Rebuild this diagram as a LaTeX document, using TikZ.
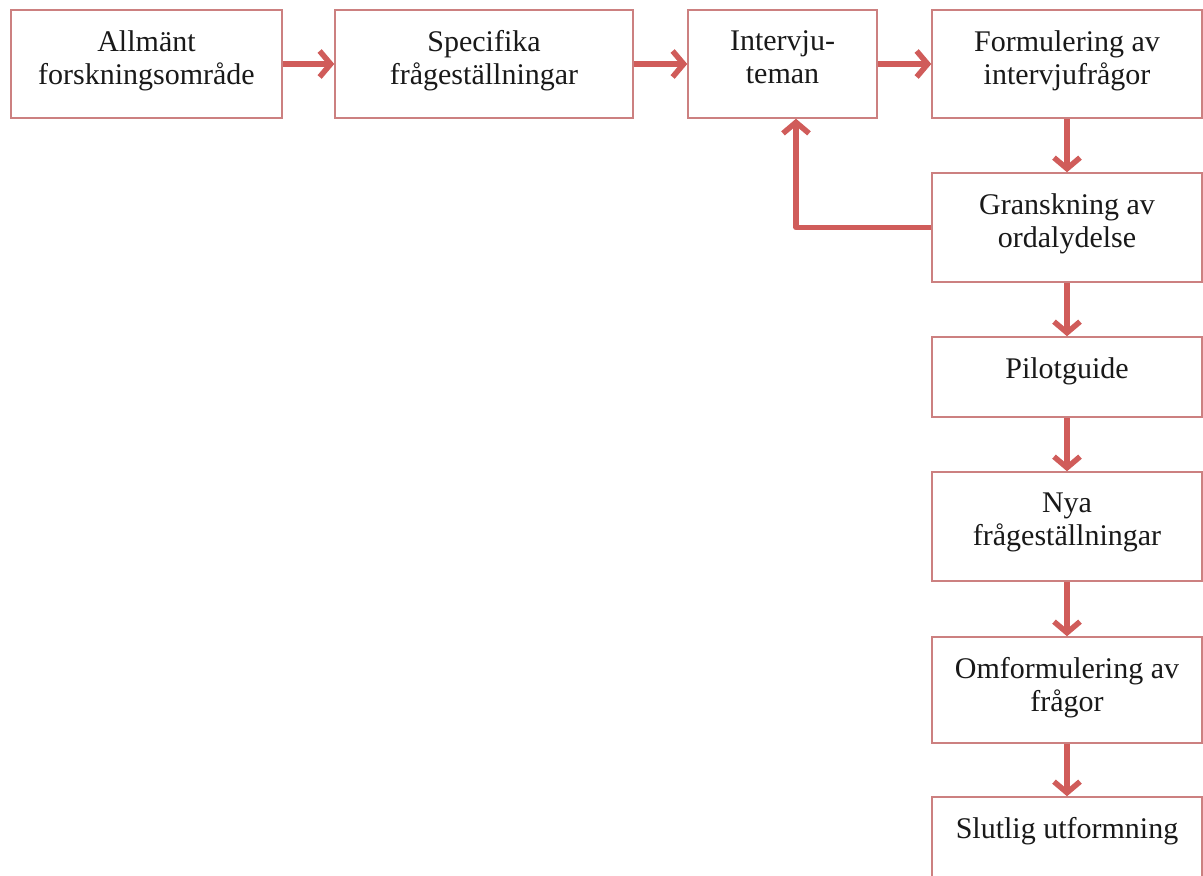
\documentclass[tikz,border=0pt]{standalone}
\usepackage{fontspec}
\setmainfont{Liberation Serif}
\usetikzlibrary{arrows.meta}
\definecolor{boxred}{RGB}{204,128,128}
\definecolor{arrowred}{RGB}{208,92,90}
\tikzset{
    box/.style={draw=boxred, line width=1.5pt, minimum width=270pt, minimum height=108pt, inner sep=0pt},
    lbl/.style={anchor=north, yshift=-21pt, inner sep=0pt, align=center, text=black!90, font=\fontsize{30}{33}\selectfont},
    arr/.style={draw=arrowred, line width=5.5pt, line join=round, -{Straight Barb[length=11pt,width=26pt,line width=5.5pt]}}
}
\begin{document}
\begin{tikzpicture}[x=1pt,y=-1pt]
    \clip (0,0) rectangle (1203,876);
    \fill[white] (0,0) rectangle (1203,876);
    % top row
    \node[box, minimum width=271pt, label={[lbl]north:{Allmänt\\forskningsområde}}] (allman) at (146.5,64) {};
    \node[box, minimum width=298pt, label={[lbl]north:{Specifika\\frågeställningar}}] (spec) at (484,64) {};
    \node[box, minimum width=189pt, label={[lbl]north:{Intervju-\\teman}}] (interv) at (782.5,64) {};
    \node[box, label={[lbl]north:{Formulering av\\intervjufrågor}}] (formul) at (1067,64) {};
    % right column
    \node[box, minimum height=109pt, label={[lbl]north:{Granskning av\\ordalydelse}}] (gransk) at (1067,227.5) {};
    \node[box, minimum height=80pt, label={[lbl]north:Pilotguide}] (pilot) at (1067,377) {};
    \node[box, minimum height=109pt, label={[lbl]north:{Nya\\frågeställningar}}] (nya) at (1067,526.5) {};
    \node[box, minimum height=106pt, label={[lbl]north:{Omformulering av\\frågor}}] (omform) at (1067,690) {};
    \node[box, label={[lbl]north:{Slutlig utformning}}] (slut) at (1067,851) {};
    % arrows
    \draw[arr] (allman.east) -- (spec.west);
    \draw[arr] (spec.east) -- (interv.west);
    \draw[arr] (interv.east) -- (formul.west);
    \draw[arr] (formul.south) -- (gransk.north);
    \draw[arr] (gransk.west) -| ([xshift=13.5pt]interv.south);
    \draw[arr] (gransk.south) -- (pilot.north);
    \draw[arr] (pilot.south) -- (nya.north);
    \draw[arr] (nya.south) -- (omform.north);
    \draw[arr] (omform.south) -- (slut.north);
\end{tikzpicture}
\end{document}
